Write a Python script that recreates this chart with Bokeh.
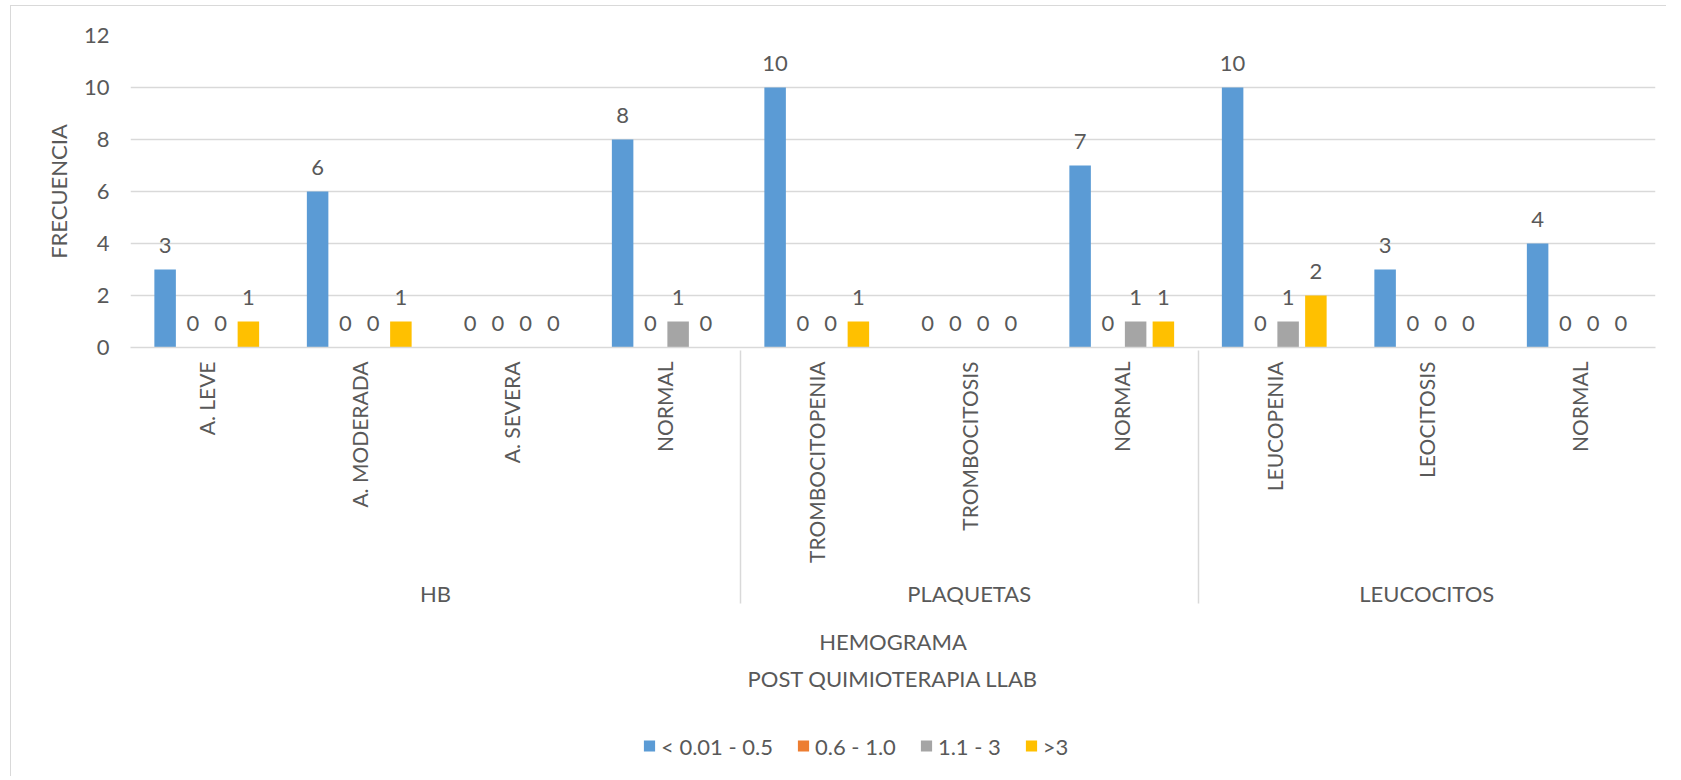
import math

from bokeh.core.properties import value
from bokeh.embed import file_html
from bokeh.layouts import column
from bokeh.models import (ColumnDataSource, FactorRange, FixedTicker, Legend,
                          LegendItem, Range1d, Title)
from bokeh.plotting import figure
from bokeh.resources import INLINE
from bokeh.transform import dodge

# datos
grupos = ["HB", "HB", "HB", "HB", "PLAQUETAS", "PLAQUETAS", "PLAQUETAS",
          "LEUCOCITOS", "LEUCOCITOS", "LEUCOCITOS"]
categorias = ["A. LEVE", "A. MODERADA", "A. SEVERA", "NORMAL", "TROMBOCITOPENIA",
              "TROMBOCITOSIS", "NORMAL", "LEUCOPENIA", "LEOCITOSIS", "NORMAL"]
series = ["< 0.01 - 0.5", "0.6 - 1.0", "1.1 - 3", ">3"]
serie_1 = [3, 6, 0, 8, 10, 0, 7, 10, 3, 4]
serie_2 = [0, 0, 0, 0, 0, 0, 0, 0, 0, 0]
serie_3 = [0, 0, 0, 1, 0, 0, 1, 1, 0, 0]
serie_4 = [1, 1, 0, 0, 1, 0, 1, 2, 0, 0]
marcas_y = [0, 2, 4, 6, 8, 10, 12]

colores = ["#5B9BD5", "#ED7D31", "#A5A5A5", "#FFC000"]
desplazamientos = [-0.273, -0.091, 0.091, 0.273]
fuente = "Lato"
gris_texto = "#595959"
gris_linea = "#D9D9D9"

factores = list(zip(grupos, categorias))
valores = [serie_1, serie_2, serie_3, serie_4]

datos = {"x": factores}
for i, v in enumerate(valores):
    datos["v%d" % i] = v
    datos["t%d" % i] = [str(n) for n in v]
fuente_datos = ColumnDataSource(datos)

p = figure(x_range=FactorRange(*factores, range_padding=0, group_padding=0,
                               subgroup_padding=0, factor_padding=0),
           y_range=Range1d(0, 12), frame_width=1525, frame_height=312,
           min_border_left=119, min_border_right=11, min_border_top=29,
           min_border_bottom=368, output_backend="svg", toolbar_location=None)
p.outline_line_color = None

for i, v in enumerate(valores):
    x = dodge("x", desplazamientos[i], range=p.x_range)
    p.vbar(x=x, top="v%d" % i, width=0.141, source=fuente_datos,
           fill_color=colores[i], line_color=None)
    p.text(x=x, y="v%d" % i, text="t%d" % i, source=fuente_datos,
           text_font=value(fuente), text_font_size="22px", text_color=gris_texto,
           text_align="center", text_baseline="alphabetic", y_offset=-24)

# eje y
p.yaxis.ticker = FixedTicker(ticks=marcas_y)
p.yaxis.axis_line_color = None
p.yaxis.major_tick_line_color = None
p.yaxis.minor_tick_line_color = None
p.yaxis.major_tick_out = 0
p.yaxis.major_tick_in = 0
p.yaxis.major_label_standoff = 21
p.yaxis.major_label_text_font = fuente
p.yaxis.major_label_text_font_size = "22px"
p.yaxis.major_label_text_color = gris_texto
p.yaxis.axis_label = "FRECUENCIA"
p.yaxis.axis_label_standoff = 9
p.yaxis.axis_label_text_font = fuente
p.yaxis.axis_label_text_font_size = "22px"
p.yaxis.axis_label_text_font_style = "normal"
p.yaxis.axis_label_text_color = gris_texto

# eje x con categorias agrupadas
p.xaxis.major_label_orientation = math.pi / 2
p.xaxis.major_label_standoff = 14
p.xaxis.major_tick_line_color = None
p.xaxis.major_tick_out = 0
p.xaxis.major_tick_in = 0
p.xaxis.axis_line_color = gris_linea
p.xaxis.axis_line_width = 1.5
p.xaxis.major_label_text_font = fuente
p.xaxis.major_label_text_font_size = "21px"
p.xaxis.major_label_text_color = gris_texto
p.xaxis.group_text_font = fuente
p.xaxis.group_text_font_size = "22px"
p.xaxis.group_text_font_style = "normal"
p.xaxis.group_text_color = gris_texto
p.xaxis.separator_line_color = gris_linea
p.xaxis.separator_line_width = 1.5
p.xaxis.axis_label = "HEMOGRAMA"
p.xaxis.axis_label_standoff = 18
p.xaxis.axis_label_text_font = fuente
p.xaxis.axis_label_text_font_size = "22px"
p.xaxis.axis_label_text_font_style = "normal"
p.xaxis.axis_label_text_color = gris_texto

p.xgrid.grid_line_color = None
p.ygrid.grid_line_color = gris_linea
p.ygrid.grid_line_width = 1.5

p.add_layout(Title(text="POST QUIMIOTERAPIA LLAB", align="center", text_font=fuente,
                   text_font_size="22px", text_font_style="normal",
                   text_color=gris_texto, standoff=10), "below")

# leyenda en una franja aparte, debajo del grafico
p_leyenda = figure(width=1655, height=61, x_axis_type=None, y_axis_type=None,
                   min_border=0, output_backend="svg", toolbar_location=None)
p_leyenda.outline_line_color = None
items = []
for i, nombre in enumerate(series):
    # barra de altura cero: solo sirve de muestra de color en la leyenda
    muestra = p_leyenda.vbar(x=[0], top=[0], bottom=[0], width=0.5,
                             fill_color=colores[i], line_color=None)
    items.append(LegendItem(label=nombre, renderers=[muestra]))

leyenda = Legend(items=items, location="left", orientation="horizontal",
                 glyph_width=14, glyph_height=14, label_standoff=5, spacing=23,
                 padding=0, margin=512, border_line_color=None, background_fill_alpha=0,
                 label_text_font=fuente, label_text_font_size="22px",
                 label_text_color=gris_texto)
p_leyenda.add_layout(leyenda)

pagina = column(p, p_leyenda, spacing=0,
                styles={"margin-left": "10px", "margin-top": "5px",
                        "border-left": "1.5px solid #d9d9d9",
                        "border-top": "1.5px solid #d9d9d9"})

open("out.html", "w").write(file_html(pagina, INLINE))
